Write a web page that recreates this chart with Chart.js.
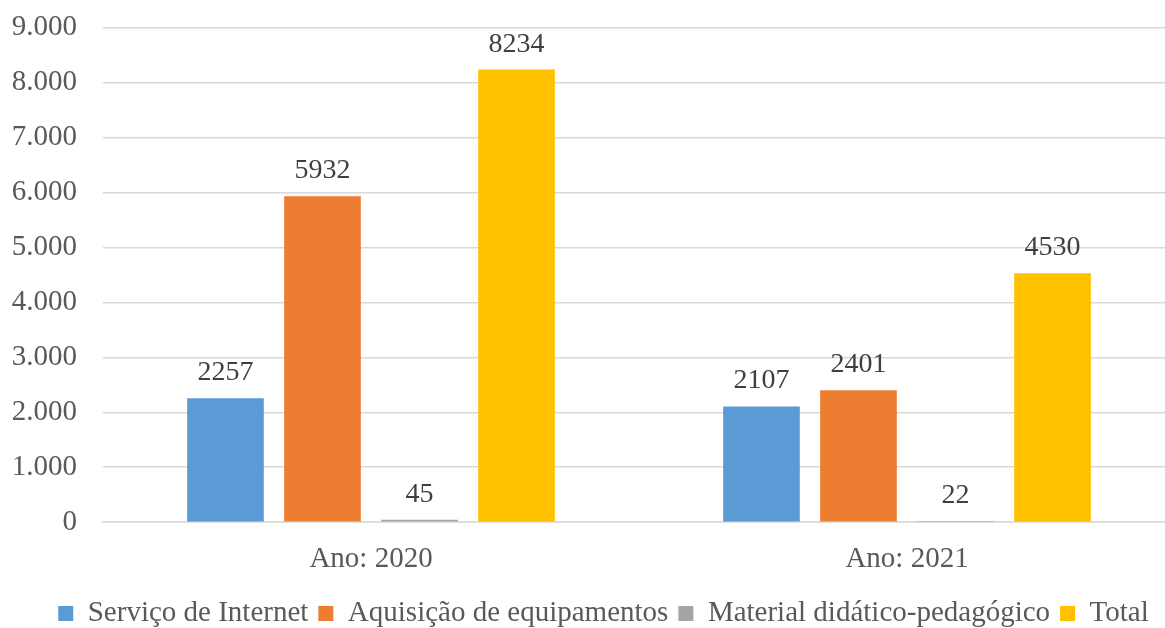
<!DOCTYPE html>
<html>
<head>
<meta charset="utf-8">
<script src="https://cdn.jsdelivr.net/npm/chart.js@4/dist/chart.umd.min.js"></script>
<style>
  html, body { margin: 0; padding: 0; background: #fff; overflow: hidden; }
  #wrap { width: 1175px; height: 628px; }
</style>
</head>
<body>
<div id="wrap"><canvas id="grafico"></canvas></div>
<script>
// dados
const anos = ['Ano: 2020', 'Ano: 2021'];
const servicoInternet = [2257, 2107];
const aquisicaoEquip = [5932, 2401];
const materialDidatico = [45, 22];
const total = [8234, 4530];
const yTicks = [0, 1000, 2000, 3000, 4000, 5000, 6000, 7000, 8000, 9000];

const fonte = 'Liberation Serif, Times New Roman, serif';

// rótulos acima das barras
const rotulosPlugin = {
    id: 'rotulos',
    afterLayout(chart) {
        // legenda um pouco deslocada para a direita, como no original
        chart.legend.left += 16;
        chart.legend.right += 16;
    },
    afterDatasetsDraw(chart) {
        const ctx = chart.ctx;
        ctx.save();
        ctx.font = '28px ' + fonte;
        ctx.fillStyle = '#404040';
        ctx.textAlign = 'center';
        ctx.textBaseline = 'alphabetic';
        chart.data.datasets.forEach((ds, i) => {
            chart.getDatasetMeta(i).data.forEach((bar, j) => {
                ctx.fillText(String(ds.data[j]), bar.x, bar.y - 18);
            });
        });
        ctx.restore();
    }
};

new Chart(document.getElementById('grafico').getContext('2d'), {
    type: 'bar',
    data: {
        labels: anos,
        datasets: [
            { label: 'Serviço de Internet', data: servicoInternet, backgroundColor: '#5B9BD5' },
            { label: 'Aquisição de equipamentos', data: aquisicaoEquip, backgroundColor: '#ED7D31' },
            { label: 'Material didático-pedagógico', data: materialDidatico, backgroundColor: '#A5A5A5' },
            { label: 'Total', data: total, backgroundColor: '#FFC000' }
        ]
    },
    options: {
        responsive: true,
        maintainAspectRatio: false,
        animation: false,
        categoryPercentage: 0.724,
        barPercentage: 0.79,
        layout: { padding: { top: 27.5, right: 0, left: 0, bottom: -10 } },
        plugins: {
            legend: {
                position: 'bottom',
                labels: {
                    boxWidth: 15,
                    boxHeight: 15,
                    padding: 10,
                    color: '#595959',
                    font: { size: 29, family: fonte }
                }
            },
            tooltip: { enabled: false }
        },
        scales: {
            x: {
                grid: { display: false },
                border: { color: '#D9D9D9', width: 1.5 },
                ticks: {
                    color: '#595959',
                    padding: 12,
                    font: { size: 29, family: fonte }
                }
            },
            y: {
                min: 0,
                max: 9000,
                afterBuildTicks(axis) {
                    axis.ticks = yTicks.map(v => ({ value: v }));
                },
                afterFit(axis) {
                    axis.width = 103;
                },
                grid: { color: '#D9D9D9', lineWidth: 1.5, drawTicks: true, tickLength: 26, tickColor: 'rgba(0,0,0,0)' },
                border: { display: false },
                ticks: {
                    color: '#595959',
                    padding: 0,
                    font: { size: 29, family: fonte },
                    callback: function(value) {
                        return String(value).replace(/\B(?=(\d{3})+(?!\d))/g, '.');
                    }
                }
            }
        }
    },
    plugins: [rotulosPlugin]
});
</script>
</body>
</html>
